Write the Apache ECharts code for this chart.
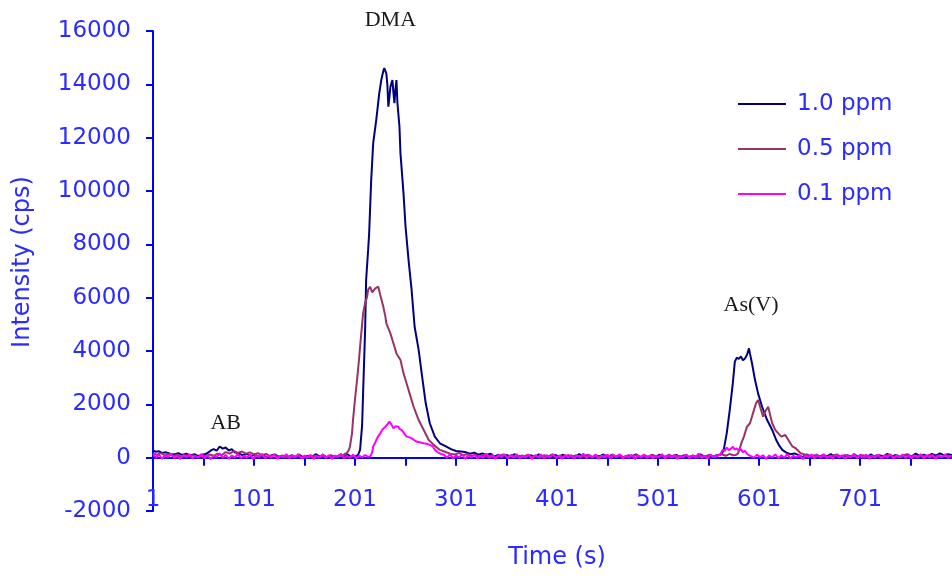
<!DOCTYPE html>
<html>
<head>
<meta charset="utf-8">
<title>Arsenic species chromatogram</title>
<script src="https://cdn.jsdelivr.net/npm/echarts@6/dist/echarts.min.js"></script>
<style>
    html, body { margin: 0; padding: 0; background: #ffffff; }
    #chart { width: 952px; height: 581px; }
</style>
</head>
<body>
<div id="chart"></div>
<script>
// series names, shown in the legend
const seriesNames = ['1.0 ppm', '0.5 ppm', '0.1 ppm'];
const seriesColors = ['#000080', '#993366', '#ff00ff'];

// y axis range / tick step (cps)
const yMin = -2000, yMax = 16000, yStep = 2000;
// x axis range / tick step (s)
const xMin = 1, xMax = 792, xStep = 50;

// peak labels: [text, time, intensity]
const peakNames = [['AB', 73, 1300], ['DMA', 236, 16400], ['As(V)', 593, 5700]];

// [time (s), intensity (cps)]
const series10 = [
    [1,260],[4,220],[7,240],[10,180],[14,200],[18,150],[22,120],[26,170],[30,100],[34,150],[38,80],[42,130],[46,60],[50,110],
    [54,150],[58,260],[61,320],[64,260],[67,420],[70,340],[73,380],[76,270],[79,320],[82,200],[86,150],[90,90],[94,140],[98,60],
    [102,120],[106,30],[110,90],[114,10],[118,80],[122,120],[126,20],[130,70],[134,-10],[138,90],[142,30],[146,110],[150,0],
    [154,70],[158,20],[162,130],[166,40],[170,90],[174,-10],[178,80],[182,10],[186,100],[190,30],[194,120],[198,0],[201,40],[204,100],
    [206,290],[208,1200],[209,2420],[211,4800],[212,6660],[214,7800],[215,8420],[217,10400],[219,11800],[222,12660],[225,13670],
    [227,14160],[229,14500],[230,14610],[231,14550],[232,14400],[233,14000],[234,13160],[235,13500],[236,13900],[238,14160],
    [239,13700],[240,13290],[241,13800],[242,14160],[243,13290],[245,12410],[246,11410],[249,9910],[251,8670],[254,7410],
    [257,6290],[260,4910],[264,4040],[267,3160],[271,2040],[275,1290],[280,790],[285,540],[291,420],[296,320],[301,250],
    [306,230],[311,200],[315,150],[319,190],[323,110],[327,160],
    [331,90],[335,150],[339,40],[343,110],[347,10],[351,100],[355,40],[359,130],[363,20],[367,80],[371,-10],[375,90],[379,30],
    [383,120],[387,40],[391,80],[395,0],[399,100],[403,50],[407,110],[411,10],[415,70],[419,30],[423,130],[427,40],[431,90],
    [435,-10],[439,80],[443,50],[447,120],[451,20],[455,90],[459,30],[463,100],[467,0],[471,80],[475,40],[479,120],[483,30],
    [487,70],[491,10],[495,100],[499,50],[503,110],[507,0],[511,80],[515,40],[519,100],[523,20],[527,90],[531,10],[535,70],
    [539,30],[543,120],[547,40],[551,80],[555,20],[559,90],[562,100],
    [564,150],[566,290],[569,920],[572,1790],[575,2790],[577,3600],[579,3750],[581,3700],[583,3800],[585,3650],[587,3720],
    [589,3850],[591,4100],[592,3900],[594,3540],[597,2910],[600,2410],[604,1910],[609,1410],[614,1040],[618,660],[621,450],
    [624,290],[628,190],[632,130],[636,160],
    [640,100],[644,20],[648,120],[652,40],[656,80],[660,10],[664,100],[668,50],[672,130],[676,30],[680,70],[684,0],[688,90],
    [692,50],[696,110],[700,10],[704,80],[708,40],[712,120],[716,20],[720,90],[724,50],[728,140],[732,30],[736,100],[740,10],
    [744,80],[748,120],[752,40],[756,150],[760,70],[764,110],[768,50],[772,140],[776,80],[780,160],[784,90],[788,130],[792,100]
];

const series05 = [
    [1,150],[5,110],[9,170],[13,90],[17,130],[21,60],[25,120],[29,20],[33,100],[37,50],[41,90],[45,10],[49,80],[53,50],[57,120],
    [61,70],[65,150],[69,90],[73,210],[77,150],[81,250],[85,180],[89,230],[93,150],[97,200],[101,120],[105,170],[109,90],
    [113,140],[117,60],[121,110],[125,20],[129,80],[133,0],[137,60],[141,10],[145,70],[149,-10],[153,50],[157,10],[161,80],
    [165,0],[169,60],[173,20],[177,90],[181,20],[185,80],[189,90],[191,140],[193,180],
    [195,300],[196,420],[198,900],[199,1410],[201,2200],[203,2910],[205,3700],[206,4160],[208,5000],[209,5410],[211,5800],
    [213,6040],[214,6300],[216,6410],[218,6200],[219,6160],[221,6350],[222,6290],[224,6410],[226,6100],[227,6040],[229,5660],
    [231,5300],[232,5040],[234,4850],[236,4660],[239,4290],[242,3910],[246,3660],[249,3160],[252,2790],[255,2410],[259,1910],
    [264,1410],[269,1040],[274,660],[279,480],[285,290],[290,220],[295,150],[300,120],[304,180],[308,90],[312,140],[316,60],[320,110],
    [324,30],[328,100],[332,20],[336,90],[340,0],[344,70],[348,120],[352,30],[356,100],[360,10],[364,70],[368,30],[372,110],
    [376,20],[380,80],[384,-10],[388,90],[392,40],[396,120],[400,20],[404,80],[408,10],[412,100],[416,40],[420,90],[424,0],
    [428,70],[432,110],[436,30],[440,80],[444,10],[448,100],[452,40],[456,120],[460,20],[464,70],[468,0],[472,90],[476,40],
    [480,110],[484,10],[488,80],[492,30],[496,100],[500,0],[504,90],[508,40],[512,110],[516,20],[520,70],[524,10],[528,100],
    [532,30],[536,80],[540,0],[544,90],[548,40],[552,110],[556,20],[560,90],[564,130],[568,70],[572,140],[575,90],
    [578,100],[580,150],[582,360],[584,600],[586,790],[589,1160],[592,1290],[595,1670],[598,2040],[600,2160],[602,1910],
    [605,1540],[608,1790],[610,1910],[612,1600],[614,1290],[617,1040],[620,910],[623,790],[627,850],[630,660],[634,420],
    [637,360],[640,250],[642,170],[646,120],
    [650,90],[654,20],[658,110],[662,30],[666,90],[670,0],[674,80],[678,120],[682,30],[686,100],[690,10],[694,90],[698,40],
    [702,110],[706,0],[710,80],[714,30],[718,100],[722,-10],[726,80],[730,110],[734,30],[738,90],[742,10],[746,120],[750,40],
    [754,90],[758,0],[762,100],[766,40],[770,110],[774,10],[778,80],[782,30],[786,100],[790,40],[792,70]
];

const series01 = [
    [1,130],[4,0],[7,110],[10,-40],[13,90],[16,20],[19,150],[22,-20],[25,80],[28,-50],[31,100],[34,10],[37,130],[40,-30],
    [43,70],[46,0],[49,140],[52,-20],[55,90],[58,-50],[61,80],[64,20],[67,160],[70,-10],[73,110],[76,-40],[79,80],[82,10],
    [85,130],[88,-20],[91,70],[94,0],[97,120],[100,-50],[103,90],[106,20],[109,140],[112,-20],[115,80],[118,0],[121,110],
    [124,-40],[127,70],[130,10],[133,130],[136,-20],[139,90],[142,20],[145,140],[148,-30],[151,80],[154,0],[157,110],[160,-50],
    [163,70],[166,10],[169,130],[172,-10],[175,90],[178,-40],[181,80],[184,20],[187,150],[190,-20],[193,70],[196,0],[199,110],
    [202,-30],[205,80],[208,10],[211,100],[214,30],
    [216,40],[218,200],[219,420],[221,560],[222,660],[224,800],[226,910],[228,1050],[231,1160],[233,1250],[235,1350],[237,1250],
    [239,1100],[241,1180],[244,1160],[245,1080],[247,1040],[249,950],[252,790],[255,760],[257,730],[260,650],[262,600],[265,580],
    [269,540],[272,520],[275,480],[278,420],[280,300],[283,200],[286,140],
    [289,110],[292,0],[295,130],[298,-20],[301,80],[304,20],[307,120],[310,-40],[313,90],[316,10],[319,110],[322,-30],[325,70],
    [328,0],[331,150],[334,-10],[337,80],[340,-40],[343,100],[346,20],[349,120],[352,-20],[355,80],[358,0],[361,130],[364,-30],
    [367,70],[370,10],[373,110],[376,-50],[379,90],[382,20],[385,120],[388,-20],[391,80],[394,0],[397,130],[400,-10],[403,70],
    [406,-40],[409,110],[412,10],[415,90],[418,-30],[421,80],[424,20],[427,150],[430,-20],[433,90],[436,0],[439,120],[442,-40],
    [445,70],[448,10],[451,110],[454,-20],[457,90],[460,20],[463,130],[466,-30],[469,80],[472,0],[475,110],[478,-50],[481,70],
    [484,10],[487,120],[490,-10],[493,90],[496,-20],[499,80],[502,20],[505,130],[508,-30],[511,90],[514,0],[517,110],[520,-40],
    [523,70],[526,10],[529,120],[532,-20],[535,80],[538,0],[541,150],[544,-10],[547,70],[550,-30],[553,110],[556,30],
    [560,60],[563,150],[565,300],[567,250],[569,380],[571,280],[573,330],[575,410],[577,300],[579,350],[581,260],[583,320],
    [585,200],[587,260],[589,150],[591,90],[593,60],
    [596,0],[599,110],[602,20],[605,90],[608,-40],[611,80],[614,20],[617,120],[620,-20],[623,90],[626,0],[629,130],[632,-30],
    [635,70],[638,10],[641,110],[644,-50],[647,90],[650,20],[653,120],[656,-20],[659,80],[662,0],[665,130],[668,-10],[671,70],
    [674,-40],[677,110],[680,10],[683,90],[686,-30],[689,80],[692,20],[695,150],[698,-20],[701,90],[704,0],[707,120],[710,-40],
    [713,70],[716,10],[719,110],[722,-20],[725,80],[728,0],[731,130],[734,-30],[737,70],[740,10],[743,120],[746,-10],[749,90],
    [752,-20],[755,80],[758,20],[761,130],[764,-30],[767,90],[770,0],[773,110],[776,-40],[779,70],[782,10],[785,120],[788,-10],
    [791,80]
];

function initChromatogram() {
    const dom = document.getElementById('chart');
    const chart = echarts.init(dom, null, { renderer: 'canvas' });
    const blue = '#0000ff';
    const textBlue = '#2b2bff';
    const font = 'DejaVu Sans';
    const allData = [series10, series05, series01];

    const option = {
        backgroundColor: '#ffffff',
        animation: false,
        grid: { left: 153, right: 0, top: 31, bottom: 70, containLabel: false, outerBoundsMode: 'none' },
        legend: {
            orient: 'vertical',
            left: 738,
            top: 92,
            padding: 0,
            icon: 'rect',
            itemWidth: 48,
            itemHeight: 2,
            itemGap: 21,
            textStyle: { color: textBlue, fontFamily: font, fontSize: 23, lineHeight: 24, padding: [0, 0, 0, 6] },
            data: seriesNames
        },
        xAxis: {
            type: 'value',
            min: xMin,
            max: xMax,
            interval: xStep,
            axisLine: { onZero: true, lineStyle: { color: blue, width: 2 } },
            axisTick: { show: true, length: 8, lineStyle: { color: blue, width: 2 } },
            axisLabel: {
                color: textBlue,
                fontFamily: font,
                fontSize: 23,
                margin: -22,
                showMaxLabel: false,
                formatter: function (v) {
                    return (Math.round(v) - xMin) % 100 === 0 ? String(Math.round(v)) : '';
                }
            },
            splitLine: { show: false }
        },
        yAxis: {
            type: 'value',
            min: yMin,
            max: yMax,
            interval: yStep,
            axisLine: { show: true, lineStyle: { color: blue, width: 2 } },
            axisTick: { show: true, length: 7, lineStyle: { color: blue, width: 2 } },
            axisLabel: {
                color: textBlue,
                fontFamily: font,
                fontSize: 23,
                margin: 22,
                formatter: function (v) { return String(v); }
            },
            splitLine: { show: false }
        },
        series: seriesNames.map((name, i) => ({
            name: name,
            type: 'line',
            data: allData[i],
            symbol: 'none',
            smooth: false,
            clip: true,
            lineStyle: { color: seriesColors[i], width: 2 },
            itemStyle: { color: seriesColors[i] },
            z: 2 + i
        })),
        graphic: [{
            type: 'text',
            x: 23,
            y: 262,
            rotation: Math.PI / 2,
            style: {
                text: 'Intensity (cps)',
                fill: textBlue,
                font: '24px "DejaVu Sans"',
                textAlign: 'center',
                textVerticalAlign: 'middle'
            }
        }, {
            type: 'text',
            x: 557,
            y: 558,
            style: {
                text: 'Time (s)',
                fill: textBlue,
                font: '24px "DejaVu Sans"',
                textAlign: 'center',
                textVerticalAlign: 'middle'
            }
        }]
    };
    chart.setOption(option);

    // peak labels placed through the chart's own coordinate system
    const labels = peakNames.map(p => {
        const pt = chart.convertToPixel({ gridIndex: 0 }, [p[1], p[2]]);
        return {
            type: 'text',
            x: pt[0],
            y: pt[1],
            style: {
                text: p[0],
                fill: '#1a1a1a',
                font: '22px "Liberation Serif"',
                textAlign: 'center',
                textVerticalAlign: 'middle'
            }
        };
    });
    chart.setOption({ graphic: option.graphic.concat(labels) });

    window.addEventListener('resize', function () {
        chart.resize();
    });
    return chart;
}

initChromatogram();
</script>
</body>
</html>
